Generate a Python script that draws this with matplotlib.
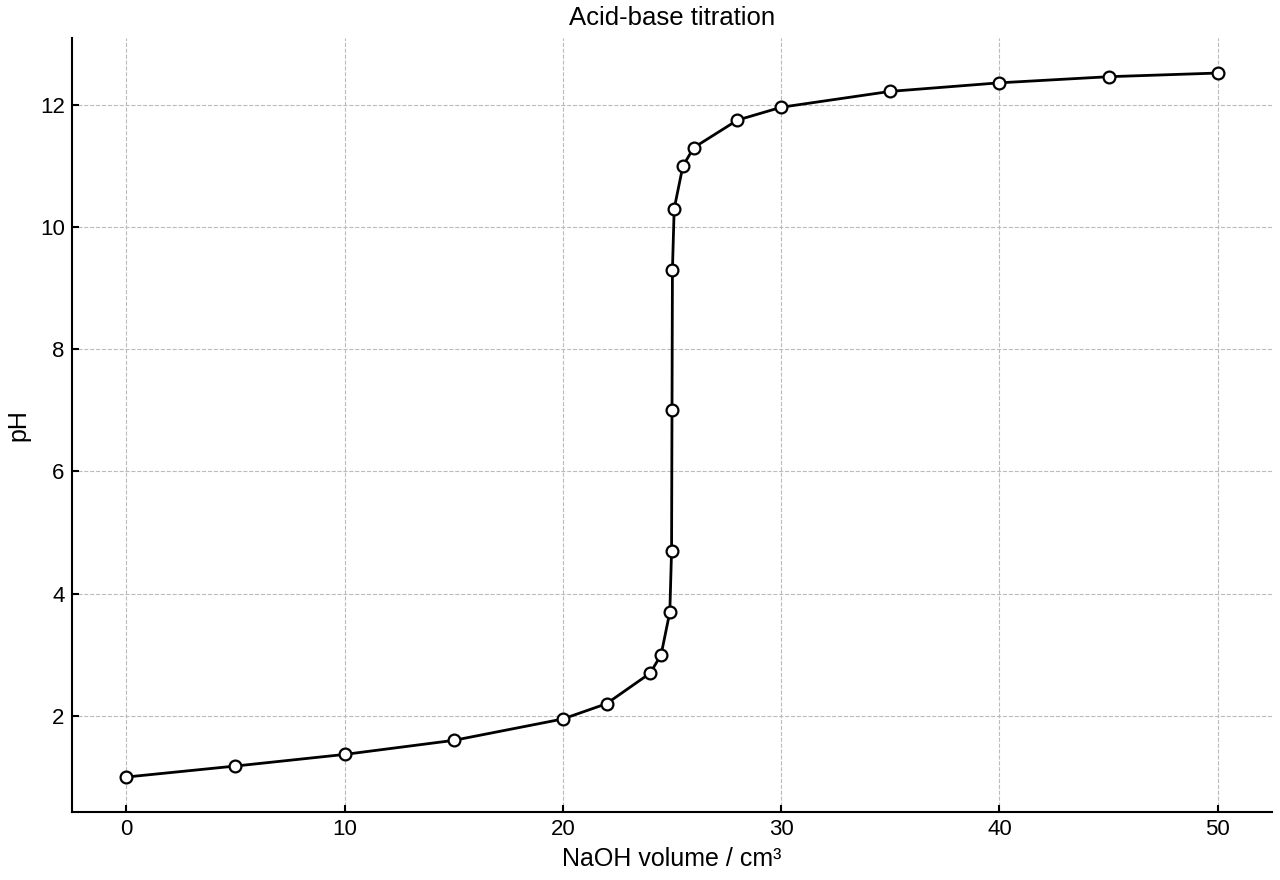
import matplotlib

matplotlib.use("Agg")
import matplotlib.pyplot as plt

# NaOH added (cm3) and measured pH
volume = [0, 5, 10, 15, 20, 22, 24, 24.5, 24.9, 24.98, 25.0, 25.02, 25.1,
          25.5, 26, 28, 30, 35, 40, 45, 50]
ph = [1.0, 1.18, 1.37, 1.6, 1.95, 2.2, 2.7, 3.0, 3.7, 4.7, 7.0, 9.3, 10.3,
      11.0, 11.3, 11.75, 11.96, 12.22, 12.36, 12.46, 12.52]

plt.rcParams["font.family"] = ["Liberation Sans", "DejaVu Sans"]
plt.rcParams["font.size"] = 16

fig, ax = plt.subplots(figsize=(12.8, 8.8), dpi=100)
fig.subplots_adjust(left=0.056, right=0.994, bottom=0.077, top=0.957)

ax.plot(volume, ph, color="black", linewidth=2, marker="o", markersize=8.5,
        markerfacecolor="white", markeredgecolor="black", markeredgewidth=1.6,
        zorder=3)

ax.set_title("Acid-base titration", fontsize=18.5, pad=9)
ax.set_xlabel("NaOH volume / cm³", fontsize=18, labelpad=5)
ax.set_ylabel("pH", fontsize=18, labelpad=7)
ax.grid(True, linestyle="--", color="#bbbbbb", linewidth=0.8)
ax.spines["top"].set_visible(False)
ax.spines["right"].set_visible(False)
ax.spines["left"].set_linewidth(1.5)
ax.spines["bottom"].set_linewidth(1.5)
ax.tick_params(direction="in", width=1.5, length=5, labelsize=16, pad=5)

fig.savefig("out.png")
